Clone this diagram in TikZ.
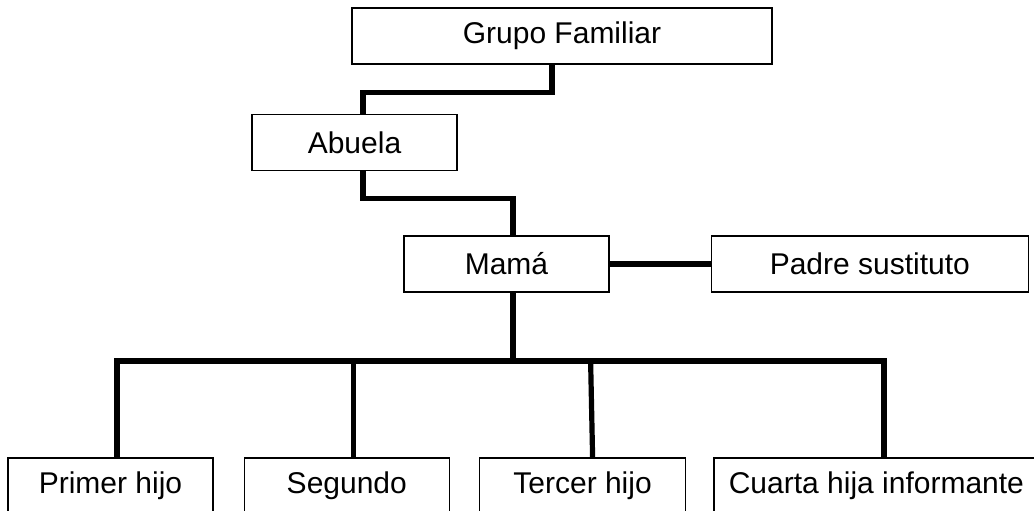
\documentclass[tikz,border=0pt]{standalone}
\usepackage{fontspec}
\setmainfont{Liberation Sans}
\usetikzlibrary{positioning}
\tikzstyle{block} = [rectangle, draw, line width=0.65pt, minimum width=102.5pt, minimum height=28pt, inner sep=0pt, text centered]
\tikzstyle{link} = [line width=2.6pt]

\begin{document}
\begin{tikzpicture}[x=0.5pt, y=-0.5pt, font=\fontsize{15}{18}\selectfont]
      \useasboundingbox (0,0) rectangle (1034,510);
      \node[block, minimum width=210pt] (Grupo) at (562,36) {Grupo Familiar};
      \node[block] (Abuela) at (354.5,142.5) {Abuela};
      \node[block] (Mama) at (506.5,264) {Mamá};
      \node[block, minimum width=158.5pt, right=50.5pt of Mama] (Padre) {Padre sustituto};
      \node[block] (Primer) at (110.5,486) {Primer hijo};
      \node[block, right=15pt of Primer] (Segundo) {Segundo};
      \node[block, minimum width=103pt, right=14.5pt of Segundo] (Tercer) {Tercer hijo};
      \node[block, minimum width=162.5pt, right=13.5pt of Tercer] (Cuarta) {Cuarta hija informante};
      \coordinate (bus) at (513,361);
      %
      \draw[link] ([xshift=-5pt]Grupo.south) -- ++(0,28) -| ([xshift=4.25pt]Abuela.north);
      \draw[link] ([xshift=4.25pt]Abuela.south) -- ++(0,27.5) -| ([xshift=3.25pt]Mama.north);
      \draw[link] (Mama) -- (Padre);
      \draw[link] ([xshift=3.25pt]Mama.south) -- (bus);
      \draw[link] ([xshift=3.25pt]Primer.north) |- (bus) -| ([xshift=3.75pt]Cuarta.north);
      \draw[link] ([xshift=3.25pt]Segundo.north) -- ++(0,-97);
      \draw[link] ([xshift=5pt]Tercer.north) -- ++(-2,-97);
    \end{tikzpicture}
\end{document}
